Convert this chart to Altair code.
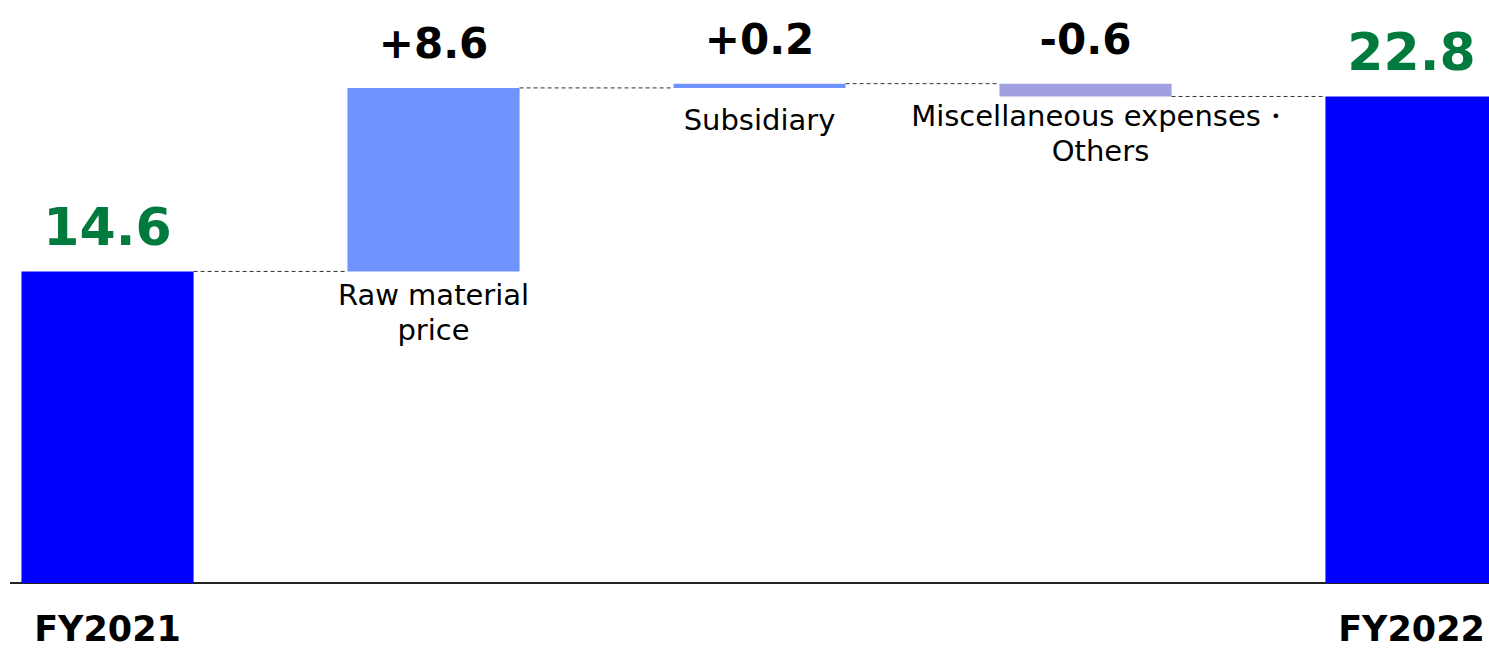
import altair as alt
import pandas as pd

# ---- data ----
categories = ["FY2021", "Raw material price", "Subsidiary", "Miscellaneous expenses・Others", "FY2022"]
values = [14.6, 8.6, 0.2, -0.6, 22.8]
kinds = ["total", "delta", "delta", "delta", "total"]
value_labels = ["14.6", "+8.6", "+0.2", "-0.6", "22.8"]
bar_colors = ["#0000FF", "#7094FF", "#7094FF", "#A0A0E0", "#0000FF"]
category_lines = [None, ["Raw material", "price"], ["Subsidiary"],
                  ["Miscellaneous expenses・", "Others"], None]

HALF = 0.264          # half bar width in category units
X_DOMAIN = [-0.3298, 4.2377]
Y_DOMAIN = [-3.14, 27.32]
FONT = "DejaVu Sans"

# ---- waterfall computation ----
rows = []
running = 0.0
for i, (c, v, k) in enumerate(zip(categories, values, kinds)):
    if k == "total":
        start, end = 0.0, v
    else:
        start, end = running, running + v
    running = end
    rows.append(dict(idx=i, cat=c, x_lo=i - HALF, x_hi=i + HALF,
                     lo=min(start, end), hi=max(start, end), end=end,
                     color=bar_colors[i], label=value_labels[i], kind=k))
df = pd.DataFrame(rows)

conn = pd.DataFrame([dict(x_lo=rows[i]["x_hi"], x_hi=rows[i + 1]["x_lo"], level=rows[i]["end"])
                     for i in range(len(rows) - 1)])

xs = alt.Scale(domain=X_DOMAIN, nice=False, zero=False)
ys = alt.Scale(domain=Y_DOMAIN, nice=False, zero=False)

base_line = alt.Chart(pd.DataFrame({"a": [-0.299], "b": [X_DOMAIN[1]], "y": [0.0]})).mark_rule(
    color="#222222", strokeWidth=2
).encode(x=alt.X("a:Q", scale=xs, axis=None), x2="b:Q", y=alt.Y("y:Q", scale=ys, axis=None))

bars = alt.Chart(df).mark_rect().encode(
    x=alt.X("x_lo:Q", scale=xs, axis=None), x2="x_hi:Q",
    y=alt.Y("lo:Q", scale=ys, axis=None), y2="hi:Q",
    color=alt.Color("color:N", scale=None, legend=None),
)

connectors = alt.Chart(conn).mark_rule(color="#333333", strokeWidth=1, strokeDash=[4, 3]).encode(
    x=alt.X("x_lo:Q", scale=xs, axis=None), x2="x_hi:Q",
    y=alt.Y("level:Q", scale=ys, axis=None),
)

total_vals = alt.Chart(df[df.kind == "total"]).mark_text(
    font=FONT, fontWeight="bold", fontSize=52, color="#007A3D", baseline="alphabetic", dy=-26
).encode(x=alt.X("idx:Q", scale=xs, axis=None), y=alt.Y("hi:Q", scale=ys, axis=None), text="label:N")

delta_vals = alt.Chart(df[df.kind == "delta"]).mark_text(
    font=FONT, fontWeight="bold", fontSize=42, color="#000000", baseline="alphabetic", dy=-30
).encode(x=alt.X("idx:Q", scale=xs, axis=None), y=alt.Y("hi:Q", scale=ys, axis=None), text="label:N")

fy_labels = alt.Chart(df[df.kind == "total"]).mark_text(
    font=FONT, fontWeight="bold", fontSize=35, color="#000000", baseline="alphabetic", dy=58
).encode(x=alt.X("idx:Q", scale=xs, axis=None), y=alt.Y("lo:Q", scale=ys, axis=None), text="cat:N")

layers = [base_line, bars, connectors, total_vals, delta_vals, fy_labels]

cat_dy = {1: 11, 2: 19, 3: 7}
cat_dx = {1: 0, 2: 0, 3: 15}
for i, lines in enumerate(category_lines):
    if lines is None:
        continue
    layers.append(
        alt.Chart(df[df.idx == i]).mark_text(
            font=FONT, fontSize=29, color="#000000", baseline="top", lineHeight=35,
            dy=cat_dy[i], dx=cat_dx[i]
        ).encode(x=alt.X("idx:Q", scale=xs, axis=None), y=alt.Y("lo:Q", scale=ys, axis=None),
                 text=alt.value(lines))
    )

chart = alt.layer(*layers).properties(
    width=1489, height=650, padding=0, autosize=alt.AutoSizeParams(type="none"),
    background="white"
).configure_view(stroke=None)

chart.save("out.html", embed_options={"renderer": "svg", "actions": False})
